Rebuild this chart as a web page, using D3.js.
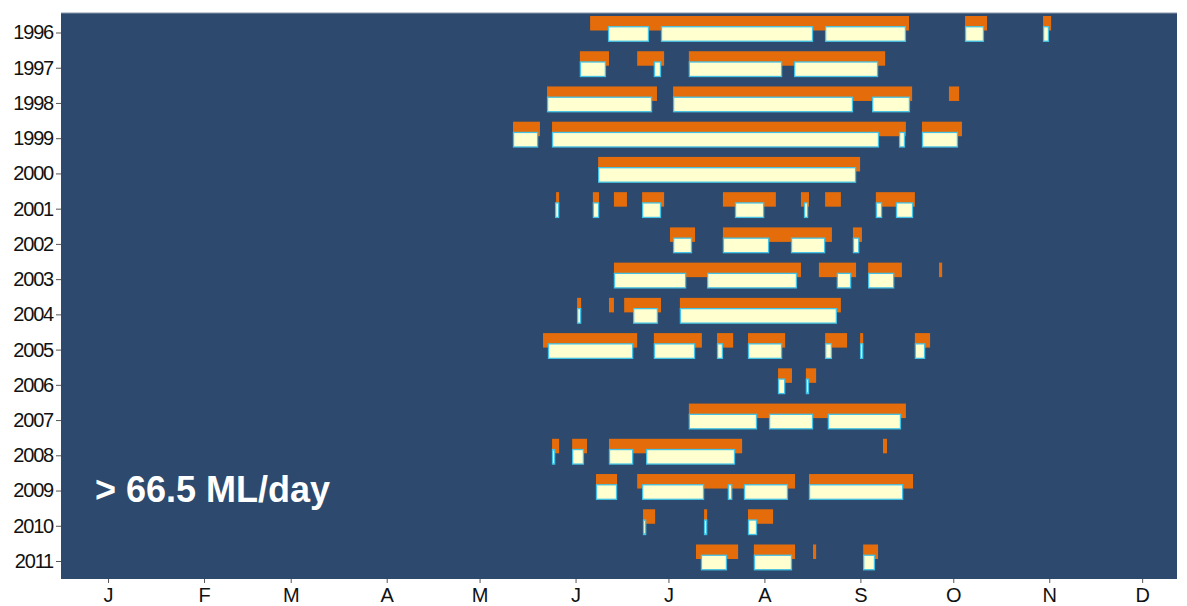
<!DOCTYPE html>
<html>
<head>
<meta charset="utf-8">
<script src="https://cdn.jsdelivr.net/npm/d3@7"></script>
<style>
    body { margin:0; background:#ffffff; }
    .ticklab { font-family:"Liberation Sans", Arial, sans-serif; fill:#111; }
    .flowlab { font-family:"Liberation Sans", Arial, sans-serif; font-weight:bold; fill:#ffffff; }
</style>
</head>
<body>
<div id="chart"></div>
<script>

// years on the y axis
let years = [1996,1997,1998,1999,2000,2001,2002,2003,2004,2005,2006,2007,2008,2009,2010,2011];

// month ticks (day of year, mid month) and labels
let monthTicks = [15,46,74,105,135,166,196,227,258,288,319,349];
let monthLabels = ['J','F','M','A','M','J','J','A','S','O','N','D'];

// orange spells: [year, start day, end day]
let orangeSpells = [
    [1996,170.7,273.7],[1996,291.8,298.9],[1996,317.0,319.6],
    [1997,167.4,176.8],[1997,185.9,194.6],[1997,202.6,266.0],
    [1998,156.8,192.3],[1998,197.5,274.7],[1998,286.6,289.9],
    [1999,145.8,154.5],[1999,158.4,272.7],[1999,277.9,290.8],
    [2000,173.3,257.9],
    [2001,159.7,160.7],[2001,171.6,173.6],[2001,178.4,182.6],[2001,187.5,194.6],[2001,213.6,230.7],[2001,238.8,241.4],[2001,246.6,251.7],[2001,263.0,275.6],
    [2002,196.5,204.6],[2002,213.6,248.8],[2002,255.6,258.5],
    [2003,178.4,238.8],[2003,244.6,256.6],[2003,260.5,271.4],[2003,283.4,284.4],
    [2004,166.5,167.8],[2004,176.8,178.4],[2004,181.7,193.6],[2004,199.7,251.7],
    [2005,155.5,185.9],[2005,191.3,206.8],[2005,211.7,216.9],[2005,221.7,233.7],[2005,246.6,253.7],[2005,257.9,258.9],[2005,275.6,280.5],
    [2006,231.4,235.9],[2006,240.4,243.7],
    [2007,202.6,272.7],
    [2008,158.4,160.7],[2008,164.9,169.7],[2008,176.8,219.8],[2008,265.3,266.6],
    [2009,172.6,179.4],[2009,185.9,236.9],[2009,241.4,275.0],
    [2010,187.8,191.7],[2010,207.5,208.5],[2010,221.7,229.8],
    [2011,204.9,218.5],[2011,223.6,236.9],[2011,242.7,243.7],[2011,258.9,263.7]
];

// pale yellow spells: [year, start day, end day]
let yellowSpells = [
    [1996,176.5,189.7],[1996,193.6,242.7],[1996,246.6,272.7],[1996,291.8,297.9],[1996,317.0,318.9],
    [1997,167.4,175.8],[1997,191.3,193.6],[1997,202.6,232.7],[1997,236.6,263.7],
    [1998,156.8,190.7],[1998,197.5,255.6],[1998,261.8,274.0],
    [1999,145.8,153.9],[1999,158.4,264.0],[1999,270.5,272.4],[1999,277.9,289.5],
    [2000,173.3,256.6],
    [2001,159.4,160.7],[2001,171.6,173.6],[2001,187.5,193.6],[2001,217.5,226.9],[2001,239.8,241.1],[2001,263.0,265.0],[2001,269.5,275.0],
    [2002,197.5,203.6],[2002,213.6,228.5],[2002,235.6,246.6],[2002,255.6,257.6],
    [2003,178.4,201.7],[2003,208.5,237.5],[2003,250.4,255.0],[2003,260.5,268.9],
    [2004,166.5,167.8],[2004,184.6,192.6],[2004,199.7,250.4],
    [2005,157.1,184.6],[2005,191.3,204.6],[2005,211.7,213.6],[2005,221.7,232.7],[2005,246.6,248.8],[2005,257.9,258.9],[2005,275.6,278.9],
    [2006,231.4,233.7],[2006,240.4,241.4],
    [2007,202.6,224.6],[2007,228.5,242.7],[2007,247.5,271.1],
    [2008,158.4,159.4],[2008,164.9,168.7],[2008,176.8,184.6],[2008,188.8,217.5],
    [2009,172.6,179.4],[2009,187.5,207.5],[2009,215.2,216.6],[2009,220.4,234.6],[2009,241.4,271.8],
    [2010,187.8,188.8],[2010,207.5,208.5],[2010,221.7,224.6],
    [2011,206.5,214.9],[2011,223.6,235.9],[2011,258.9,262.7]
];

let flowLabel = '> 66.5 ML/day';

function spellChart(id,w,h){

    let panel = {left:61, right:1177, top:13, bottom:579};

    var xScale = d3.scaleLinear()
        .domain([0, 360])
        .range([61.6, 1176.2]);

    var yScale = d3.scalePoint()
        .domain(years)
        .range([32.5, 561]);

    var svg = d3.select(id)
        .append("svg")
        .attr("width", w)
        .attr("height", h);

    // dark panel
    svg.append("rect")
        .attr("x", panel.left)
        .attr("y", panel.top)
        .attr("width", panel.right - panel.left)
        .attr("height", panel.bottom - panel.top)
        .attr("fill", "#2d4a6e");

    svg.append("line")
        .attr("x1", panel.left).attr("x2", panel.right)
        .attr("y1", panel.top).attr("y2", panel.top)
        .attr("stroke", "#8a96a8")
        .attr("stroke-width", 1);

    // orange spells sit a bit higher
    svg.selectAll("orangebars")
        .data(orangeSpells)
        .enter()
        .append("rect")
        .attr("x", function(d){ return xScale(d[1]); })
        .attr("y", function(d){ return yScale(d[0]) - 16.5; })
        .attr("width", function(d){ return xScale(d[2]) - xScale(d[1]); })
        .attr("height", 14.5)
        .attr("fill", "#e46c0a");

    // yellow spells drawn on top, outlined cyan
    svg.selectAll("yellowbars")
        .data(yellowSpells)
        .enter()
        .append("rect")
        .attr("x", function(d){ return xScale(d[1]) + 0.5; })
        .attr("y", function(d){ return yScale(d[0]) - 5.75; })
        .attr("width", function(d){ return Math.max(xScale(d[2]) - xScale(d[1]) - 1, 2); })
        .attr("height", 14.5)
        .attr("fill", "#ffffd0")
        .attr("stroke", "#45c3e6")
        .attr("stroke-width", 1.3);

    var xAxis = d3.axisBottom(xScale)
        .tickValues(monthTicks)
        .tickSize(4)
        .tickPadding(5)
        .tickFormat(function(d,i){ return monthLabels[i]; });

    var yAxis = d3.axisLeft(yScale)
        .tickSize(5)
        .tickPadding(3);

    let gx = svg.append("g")
        .attr("transform", "translate(0," + panel.bottom + ")")
        .call(xAxis);
    gx.select(".domain").remove();
    gx.selectAll("line").attr("stroke", "#555");
    gx.selectAll("text")
        .attr("class", "ticklab")
        .style("font-size", "20px");

    let gy = svg.append("g")
        .attr("transform", "translate(" + panel.left + ",0)")
        .call(yAxis);
    gy.select(".domain").remove();
    gy.selectAll("line").attr("stroke", "#555");
    gy.selectAll("text")
        .attr("class", "ticklab")
        .style("font-size", "20px")
        .style("letter-spacing", "-1.2px");

    svg.append("text")
        .attr("class", "flowlab")
        .attr("x", 95)
        .attr("y", 502)
        .style("font-size", "36px")
        .text(flowLabel);

    return svg;
}

spellChart("#chart", 1187, 606);

</script>
</body>
</html>
